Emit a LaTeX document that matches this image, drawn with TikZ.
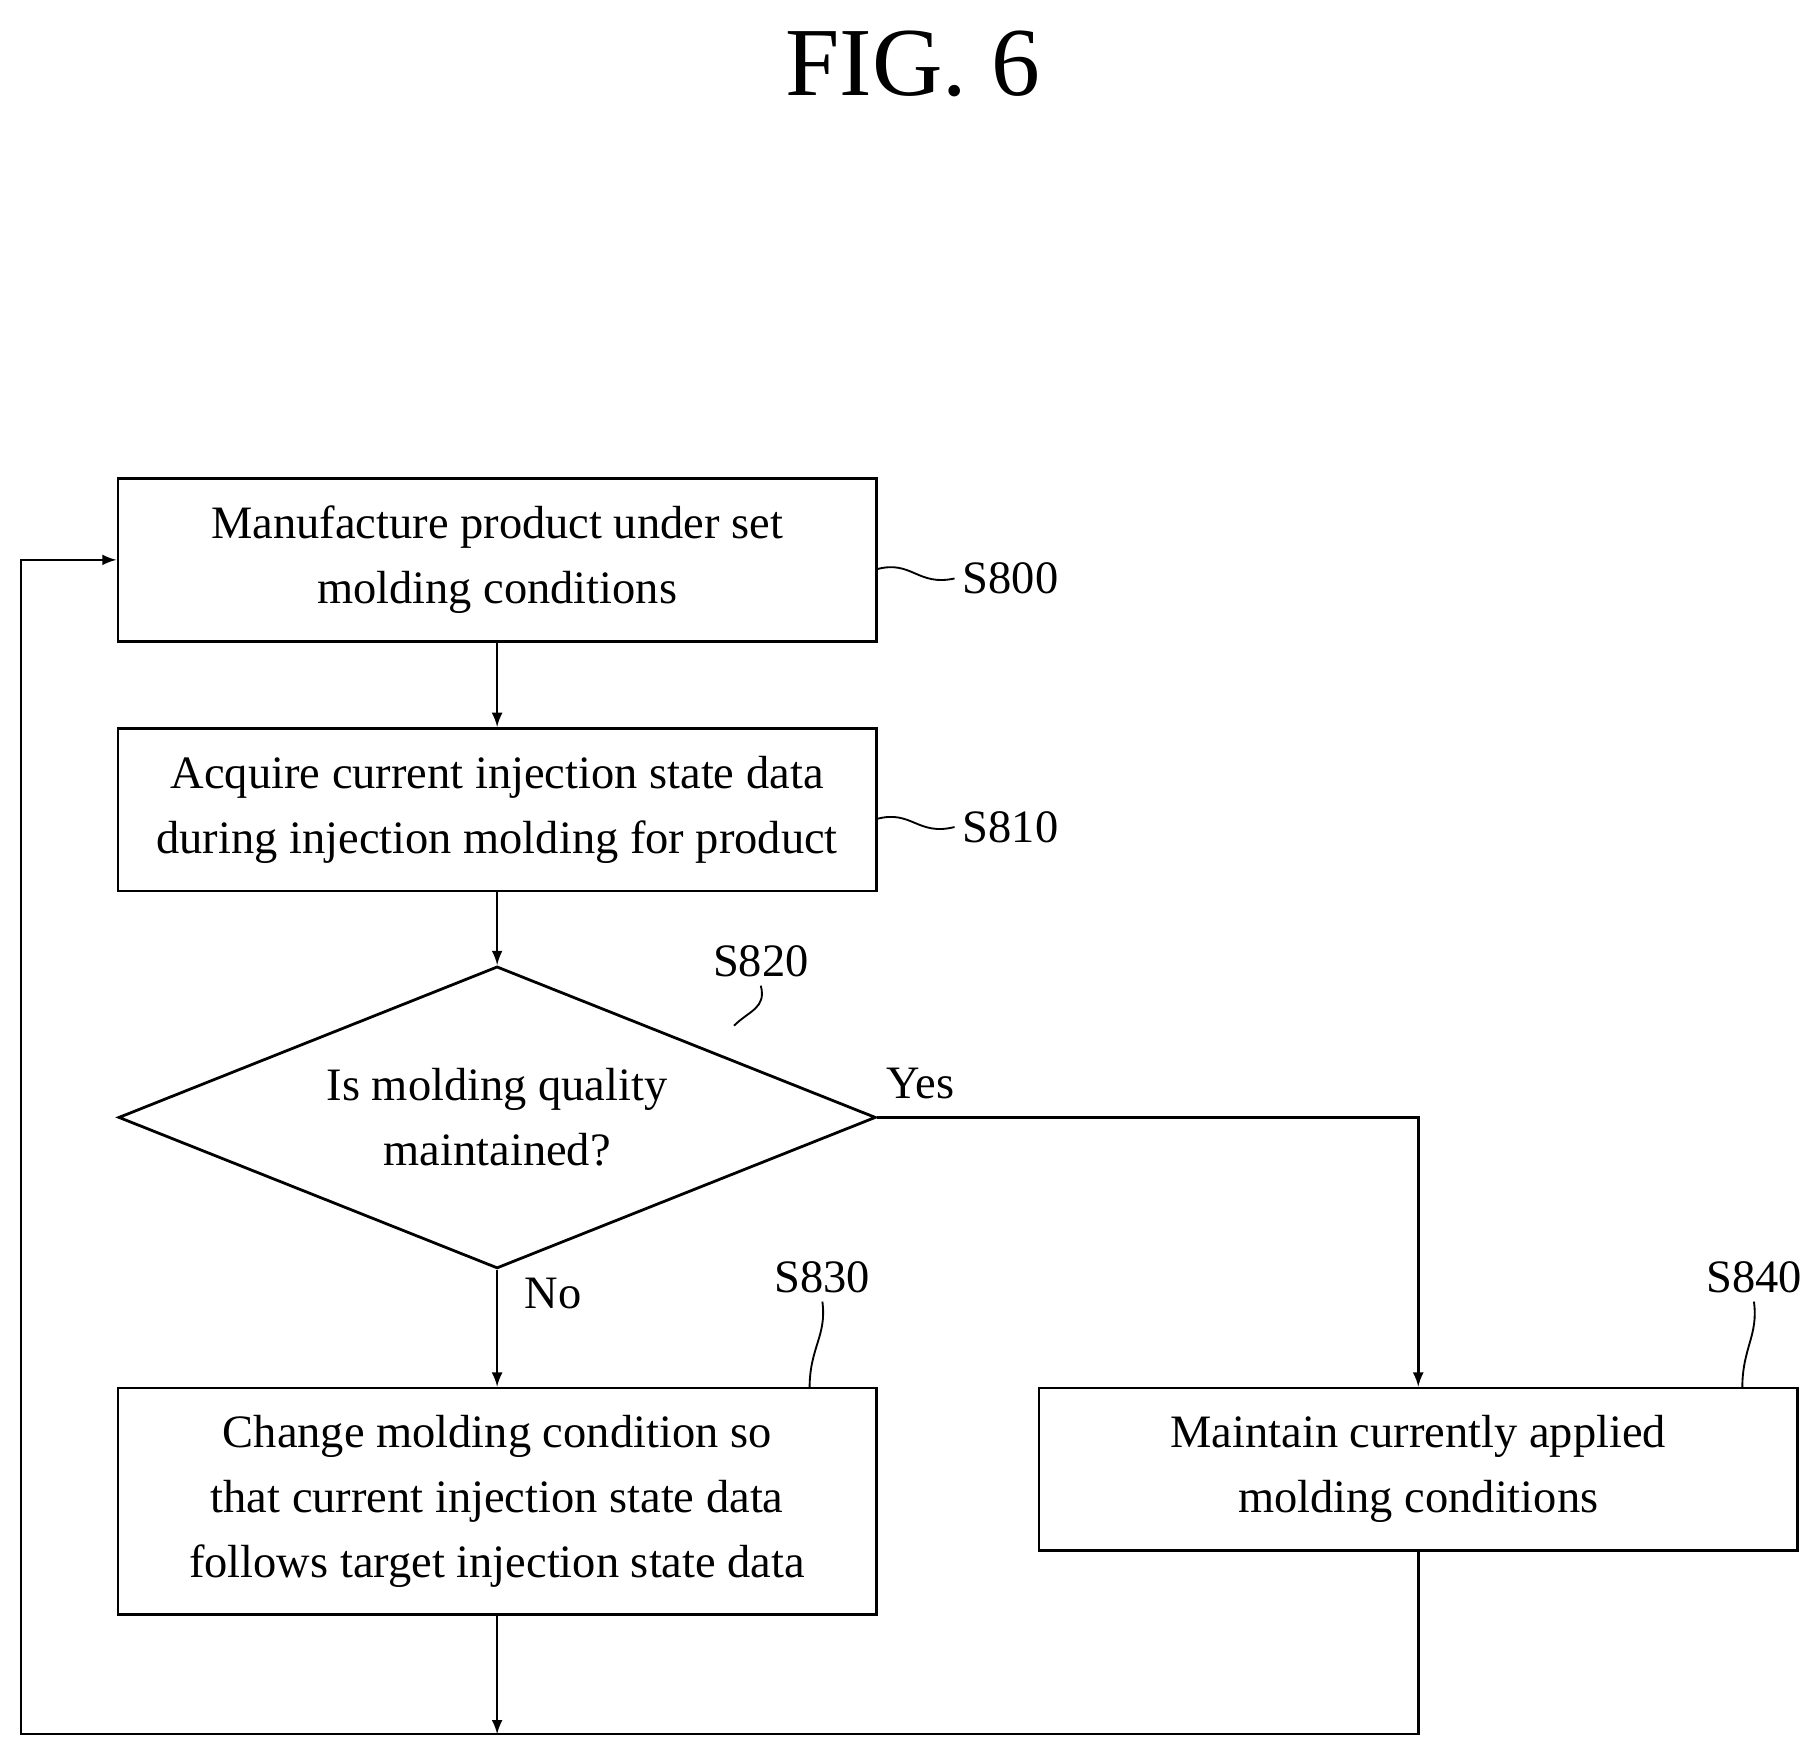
\documentclass[tikz,border=0pt]{standalone}
\usepackage{fontspec}
\setmainfont{Liberation Serif}
\usetikzlibrary{shapes.geometric}
\tikzset{
  stepbox/.style = {draw, line width=1.2pt, minimum width=326.5pt, align=center,
    font=\fontsize{20}{28}\selectfont},
  tag/.style = {font=\fontsize{20}{24}\selectfont},
  flow/.style = {line width=1.1pt, -latex},
  squig/.style = {line width=0.8pt},
}
\begin{document}
\begin{tikzpicture}[x=0.5pt, y=-0.5pt]
  \useasboundingbox (0,0) rectangle (1560,1506);

  \node [font=\fontsize{42}{48}\selectfont] (title) at (786,55) {FIG. 6};

  % boxes
  \node [stepbox, minimum height=70pt] (s800) at (428,482)
    {Manufacture product under set\\molding conditions};
  \node [stepbox, minimum height=70pt] (s810) at (428,697)
    {Acquire current injection state data\\during injection molding for product};
  \node [draw, line width=1.2pt, diamond, aspect=2.5, minimum width=326pt,
    minimum height=130pt, inner sep=0pt, align=center,
    font=\fontsize{20}{28}\selectfont] (s820) at (428,962)
    {Is molding quality\\maintained?};
  \node [stepbox, minimum height=97.5pt] (s830) at (428,1292.5)
    {Change molding condition so\\that current injection state data\\follows target injection state data};
  \node [stepbox, minimum height=70pt] (s840) at (1221,1265)
    {Maintain currently applied\\molding conditions};

  % step tags
  \node [tag] (t800) at (870,498) {S800};
  \node [tag] (t810) at (870,712) {S810};
  \node [tag] (t820) at (655,828) {S820};
  \node [tag] (t830) at (708,1100) {S830};
  \node [tag] (t840) at (1510,1100) {S840};
  \draw [squig] (755,490) .. controls (785,482) and (790,505) .. (t800.west);
  \draw [squig] (755,705) .. controls (785,697) and (790,720) .. (t810.west);
  \draw [squig] (632,883) .. controls (645,870) and (660,868) .. (t820.south);
  \draw [squig] (697,1195) .. controls (697,1160) and (712,1150) .. (t830.south);
  \draw [squig] (1500,1195) .. controls (1500,1160) and (1514,1150) .. (t840.south);

  % connectors
  \coordinate (loopR) at (1221,1493);
  \coordinate (loopM) at (428,1493);
  \coordinate (loopL) at (18,1493);
  \draw [flow] (s800) -- (s810);
  \draw [flow] (s810) -- (s820);
  \draw [flow] (s820.south) -- node [pos=0.2, right=8pt, tag] {No} (s830);
  \draw [flow] (s820.east) -- node [pos=0.08, above=4pt, tag] {Yes} (1221,962) -- (s840);
  \draw [flow] (s830) -- (loopM);
  \draw [flow] (s840) -- (loopR) -- (loopL) |- (s800.west);
\end{tikzpicture}
\end{document}
